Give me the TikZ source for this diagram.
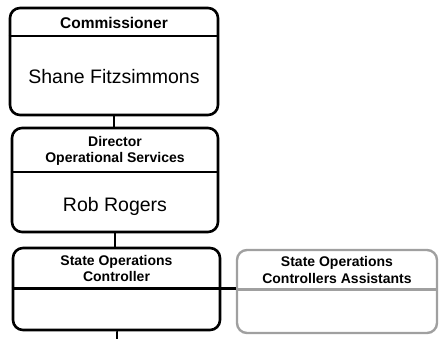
\documentclass[tikz,border=0pt]{standalone}
\usepackage{fontspec}
\setmainfont{Liberation Sans}
\definecolor{boxgray}{RGB}{160,160,160}
\begin{document}
\begin{tikzpicture}[x=1pt,y=-1pt,
  box/.style={draw=black,line width=2.6pt,rounded corners=10pt,inner sep=0pt},
  graybox/.style={draw=boxgray,line width=2.4pt,rounded corners=10pt,inner sep=0pt},
  head/.style={font=\bfseries\fontsize{14}{16.5}\selectfont,align=center,inner sep=0pt},
  bighead/.style={font=\bfseries\fontsize{15.5}{17}\selectfont,align=center,inner sep=0pt},
  personname/.style={font=\fontsize{19.5}{22}\selectfont,inner sep=0pt},
  divider/.style={line width=2.6pt},
  conn/.style={line width=2.4pt}]
\useasboundingbox (0,0) rectangle (439,339);
% boxes
\node[box,minimum width=208pt,minimum height=107pt] (b1) at (114,61.5) {};
\node[box,minimum width=206pt,minimum height=104pt] (b2) at (115,180) {};
\node[box,minimum width=207pt,minimum height=82pt] (b3) at (116.5,289) {};
\node[graybox,minimum width=200pt,minimum height=83pt] (b4) at (337,291.5) {};
% dividers
\coordinate (d1) at (114,36);
\coordinate (d2) at (115,172);
\coordinate (d3) at (116.5,288.5);
\coordinate (d4) at (337,289.5);
\draw[divider] (b1.west |- d1) -- (b1.east |- d1);
\draw[divider] (b2.west |- d2) -- (b2.east |- d2);
\draw[divider] (b3.west |- d3) -- (b4.west |- d3);
\draw[divider,draw=boxgray,line width=2.2pt] (b4.west |- d4) -- (b4.east |- d4);
% texts
\node[bighead] (t1) at (114,23) {Commissioner};
\node[personname] (n1) at (114,77) {Shane Fitzsimmons};
\node[head] (t2) at (115,151) {Director\\Operational Services};
\node[personname] (n2) at (115,206) {Rob Rogers};
\node[head] (t3) at (116.5,268.5) {State Operations\\Controller};
\node[head] (t4) at (337,270) {State Operations\\Controllers Assistants};
% connectors
\coordinate (end) at (117,339);
\draw[conn] (b1.south) -- (b2.north -| b1.south);
\draw[conn] (b2.south) -- (b3.north -| b2.south);
\draw[conn] (b3.south) -- (end |- b3.south) -- (end);
\end{tikzpicture}
\end{document}
